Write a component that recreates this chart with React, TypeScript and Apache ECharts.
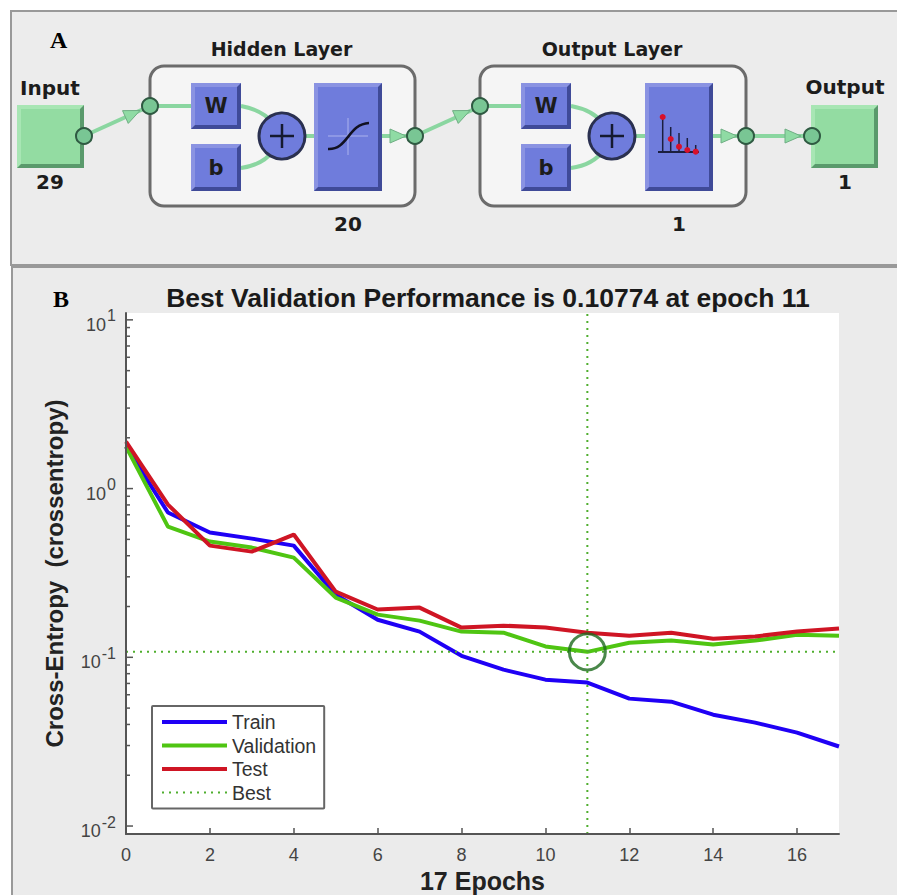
import React, { useEffect, useRef } from "react";
import * as echarts from "echarts";

const epochs = [0, 1, 2, 3, 4, 5, 6, 7, 8, 9, 10, 11, 12, 13, 14, 15, 16, 17];
const trainValues = [1.774, 0.721, 0.549, 0.505, 0.459, 0.235, 0.167, 0.142, 0.102, 0.0845, 0.0737, 0.0708, 0.0569, 0.0546, 0.0457, 0.041, 0.0358, 0.0296];
const validationValues = [1.774, 0.595, 0.485, 0.447, 0.39, 0.226, 0.179, 0.165, 0.142, 0.14, 0.116, 0.10774, 0.122, 0.1256, 0.119, 0.1256, 0.136, 0.134];
const testValues = [1.9, 0.804, 0.459, 0.423, 0.534, 0.245, 0.192, 0.197, 0.15, 0.154, 0.15, 0.14, 0.134, 0.14, 0.129, 0.133, 0.142, 0.148];
const bestEpoch = 11;
const bestValue = 0.10774;
const yMin = 0.00897;
const yMax = 10.98;
const decades = [0.01, 0.1, 1, 10];
const minorValues = [0.02, 0.03, 0.04, 0.05, 0.06, 0.07, 0.08, 0.09, 0.2, 0.3, 0.4, 0.5, 0.6, 0.7, 0.8, 0.9, 2, 3, 4, 5, 6, 7, 8, 9];
const legendNames = ["Train", "Validation", "Test", "Best"];
const xTicks = [0, 2, 4, 6, 8, 10, 12, 14, 16];

const FONT = "'Liberation Sans', Arial, sans-serif";
const DIAGRAM_FONT = "'DejaVu Sans', sans-serif";
const SERIF = "'Liberation Serif', serif";
const WIRE = "#8ad6a0";
const GREEN_DOTTED = "#4fae2e";

function bevelBox(x: number, y: number, w: number, h: number, dark: string, light: string, fill: string): any[] {
  return [
    { type: "rect", z: 3, shape: { x, y, width: w, height: h }, style: { fill: dark } },
    { type: "polygon", z: 3, shape: { points: [[x, y], [x + w, y], [x + w - 4, y + 4], [x + 4, y + 4], [x + 4, y + h - 4], [x, y + h]] }, style: { fill: light } },
    { type: "rect", z: 3, shape: { x: x + 4, y: y + 4, width: w - 8, height: h - 8 }, style: { fill } },
  ];
}
const purple = (x: number, y: number, w: number, h: number) => bevelBox(x, y, w, h, "#3f4a98", "#8a93e2", "#6f7cdc");
const greenBox = (x: number, y: number, w: number, h: number) => bevelBox(x, y, w, h, "#5a9a6c", "#a8e6b4", "#93dca2");

function node(cx: number, cy: number): any {
  return { type: "circle", z: 5, shape: { cx, cy, r: 8 }, style: { fill: "#79c694", stroke: "#2f5a42", lineWidth: 2 } };
}
function wire(x1: number, y1: number, x2: number, y2: number): any {
  return { type: "line", z: 2, shape: { x1, y1, x2, y2 }, style: { stroke: WIRE, lineWidth: 4 } };
}
function curve(x1: number, y1: number, cx: number, cy: number, x2: number, y2: number): any {
  return { type: "bezierCurve", z: 2, shape: { x1, y1, x2, y2, cpx1: cx, cpy1: cy }, style: { stroke: WIRE, lineWidth: 4, fill: "none" } };
}
function arrow(tipX: number, tipY: number, angle: number): any {
  const len = 16, half = 7;
  const c = Math.cos(angle), s = Math.sin(angle);
  return {
    type: "polygon", z: 4,
    shape: { points: [[tipX, tipY], [tipX - len * c - half * s, tipY - len * s + half * c], [tipX - len * c + half * s, tipY - len * s - half * c]] },
    style: { fill: "#8fdba4", stroke: "#6fae84", lineWidth: 1 },
  };
}
function label(text: string, x: number, y: number, size = 19): any {
  return {
    type: "text", z: 6, x, y,
    style: { text, x: 0, y: 0, align: "center", verticalAlign: "middle", font: `bold ${size}px ${DIAGRAM_FONT}`, fill: "#1c1c1c" },
  };
}
function plus(cx: number, cy: number): any[] {
  return [
    { type: "circle", z: 5, shape: { cx, cy, r: 23 }, style: { fill: "#6f7cdc", stroke: "#2a3050", lineWidth: 3 } },
    { type: "line", z: 6, shape: { x1: cx - 12, y1: cy, x2: cx + 12, y2: cy }, style: { stroke: "#151a30", lineWidth: 2.5 } },
    { type: "line", z: 6, shape: { x1: cx, y1: cy - 12, x2: cx, y2: cy + 12 }, style: { stroke: "#151a30", lineWidth: 2.5 } },
  ];
}
function layer(x: number, width: number, title: string, size: string, sizeX: number): any[] {
  const plusX = x + 132;
  const boxW = x + 41;
  return [
    { type: "rect", z: 1, shape: { x, y: 66, width, height: 140, r: 14 }, style: { fill: "#f5f5f5", stroke: "#6b6b6b", lineWidth: 3 } },
    label(title, x + width / 2 - 1, 49),
    label(size, sizeX, 224, 20),
    wire(x, 106, boxW, 106),
    curve(boxW + 50, 106, boxW + 72, 110, plusX - 8, 124),
    curve(boxW + 50, 168, boxW + 72, 165, plusX - 8, 150),
    wire(plusX + 20, 136, x + 170, 136),
    ...purple(boxW, 83, 50, 46),
    ...purple(boxW, 144, 50, 47),
    label("W", boxW + 25, 106, 21),
    label("b", boxW + 25, 168, 21),
    ...plus(plusX, 136),
  ];
}

function diagram(): any[] {
  const sigmoidX = 348;
  const stems = [[662.7, 117], [670.7, 127], [679, 133], [687.3, 138], [695.7, 145]];
  const dots = [[662.7, 117], [670.7, 139], [679, 146.7], [687.3, 150], [695.7, 151.7]];
  return [
    { type: "rect", z: 0, shape: { x: 11, y: 11, width: 890, height: 254 }, style: { fill: "#ececec", stroke: "#999999", lineWidth: 2 } },
    { type: "rect", z: 0, shape: { x: 12, y: 267, width: 890, height: 632 }, style: { fill: "#ebebeb", stroke: "#999999", lineWidth: 2 } },
    { type: "rect", z: 0, shape: { x: 126, y: 313, width: 713, height: 521 }, style: { fill: "#ffffff" } },
    ...layer(150, 265, "Hidden Layer", "20", 348),
    ...layer(480, 266, "Output Layer", "1", 679),
    ...greenBox(17, 105, 67, 63),
    ...greenBox(811, 105, 67, 63),
    wire(84, 136, 150, 106),
    wire(415, 136, 481, 106),
    wire(746, 136, 811, 136),
    wire(382, 136, 415, 136),
    wire(713, 136, 746, 136),
    arrow(140, 110.5, -0.42),
    arrow(470, 110.5, -0.42),
    arrow(406, 136, 0),
    arrow(737, 136, 0),
    arrow(801, 136, 0),
    node(84, 136), node(150, 106), node(415, 136), node(480, 106), node(746, 136), node(812, 136),
    label("Input", 50, 88, 20),
    label("29", 50, 182, 20),
    label("Output", 845, 87, 20),
    label("1", 845, 182, 20),
    ...purple(314, 83, 68, 108),
    ...purple(645, 83, 68, 108),
    { type: "line", z: 6, shape: { x1: 328, y1: 136, x2: 368, y2: 136 }, style: { stroke: "#97a0e8", lineWidth: 1.5 } },
    { type: "line", z: 6, shape: { x1: sigmoidX, y1: 118, x2: sigmoidX, y2: 155 }, style: { stroke: "#97a0e8", lineWidth: 1.5 } },
    { type: "bezierCurve", z: 7, shape: { x1: 328, y1: 149, cpx1: 348, cpy1: 150, cpx2: 348, cpy2: 124, x2: 369, y2: 123 }, style: { stroke: "#111122", lineWidth: 2.5, fill: "none" } },
    { type: "line", z: 6, shape: { x1: 658, y1: 152, x2: 699, y2: 152 }, style: { stroke: "#1b1f3f", lineWidth: 2 } },
    ...stems.map(([x, top]) => ({ type: "line", z: 6, shape: { x1: x, y1: top, x2: x, y2: 152 }, style: { stroke: "#1b1f3f", lineWidth: 1.5 } })),
    ...dots.map(([cx, cy]) => ({ type: "circle", z: 7, shape: { cx, cy, r: 3 }, style: { fill: "#d8102a" } })),
    { type: "text", z: 8, x: 50, y: 28, style: { text: "A", x: 0, y: 0, font: `bold 24px ${SERIF}`, fill: "#000" } },
    { type: "text", z: 8, x: 53, y: 287, style: { text: "B", x: 0, y: 0, font: `bold 24px ${SERIF}`, fill: "#000" } },
  ];
}

function tickSeries(values: number[], length: number): any {
  return {
    type: "custom",
    name: "ticks",
    z: 3,
    silent: true,
    clip: false,
    data: values.map((v) => [0, v]),
    encode: { x: 0, y: 1 },
    renderItem: (_p: any, api: any) => {
      const pt = api.coord([0, api.value(1)]);
      return { type: "line", shape: { x1: pt[0], y1: pt[1], x2: pt[0] + length, y2: pt[1] }, style: { stroke: "#555555", lineWidth: 1.5 } };
    },
  };
}

export default function App() {
  const ref = useRef<HTMLDivElement>(null);
  useEffect(() => {
    document.body.style.margin = "0";
    const chart = echarts.init(ref.current!, undefined, { renderer: "svg" });
    const zip = (vals: number[]) => epochs.map((e, i) => [e, vals[i]]);
    chart.setOption({
      animation: false,
      backgroundColor: "#ffffff",
      textStyle: { fontFamily: FONT },
      title: {
        text: "Best Validation Performance is 0.10774 at epoch 11",
        left: 483, top: 279, textAlign: "center",
        textStyle: { fontFamily: FONT, fontWeight: "bold", fontSize: 26.5, color: "#1a1a1a" },
      },
      grid: { left: 126, top: 313, width: 713, height: 521, show: false, outerBoundsMode: "none" },
      legend: {
        data: legendNames,
        orient: "vertical", left: 152, top: 706,
        backgroundColor: "#ffffff",
        borderColor: "#666666", borderWidth: 2, borderRadius: 1,
        padding: [6, 8, 6, 8],
        itemWidth: 65, itemHeight: 14, itemGap: 3.5,
        itemStyle: { opacity: 0 },
        lineStyle: { width: "inherit" },
        selectedMode: false,
        textStyle: { fontFamily: FONT, fontSize: 19.5, color: "#333333" },
        z: 20,
      },
      xAxis: {
        type: "value", min: 0, max: 17, interval: 2, z: 6,
        name: "17 Epochs", nameLocation: "middle", nameGap: 34,
        nameTextStyle: { fontFamily: FONT, fontWeight: "bold", fontSize: 25, color: "#222222" },
        axisLine: { lineStyle: { color: "#555555", width: 2 } },
        axisTick: { inside: true, length: 6, lineStyle: { color: "#555555", width: 1.5 }, customValues: xTicks },
        axisLabel: { fontFamily: FONT, fontSize: 18, color: "#444444", margin: 12, customValues: xTicks },
        splitLine: { show: false },
      },
      yAxis: {
        type: "log", logBase: 10, min: yMin, max: yMax, z: 6,
        name: "Cross-Entropy  (crossentropy)", nameLocation: "middle", nameGap: 60,
        nameTextStyle: { fontFamily: FONT, fontWeight: "bold", fontSize: 24, color: "#222222" },
        axisLine: { show: true, lineStyle: { color: "#555555", width: 2 } },
        axisTick: { show: false },
        axisLabel: {
          margin: 10,
          customValues: decades,
          formatter: (v: number) => `{b|10}{s|${Math.round(Math.log10(v))}}`,
          rich: {
            b: { fontFamily: FONT, fontSize: 18, color: "#444444", padding: [10, 0, 0, 0] },
            s: { fontFamily: FONT, fontSize: 16, color: "#444444", padding: [0, 0, 8, 1] },
          },
        },
        splitLine: { show: false },
      },
      graphic: { elements: diagram() },
      series: [
        { name: "Train", type: "line", z: 4, data: zip(trainValues), symbol: "none", lineStyle: { color: "#1f00f5", width: 4 }, itemStyle: { color: "#1f00f5" } },
        { name: "Validation", type: "line", z: 4, data: zip(validationValues), symbol: "none", lineStyle: { color: "#4fc512", width: 4 }, itemStyle: { color: "#4fc512" } },
        { name: "Test", type: "line", z: 5, data: zip(testValues), symbol: "none", lineStyle: { color: "#cf1524", width: 4 }, itemStyle: { color: "#cf1524" } },
        { name: "Best", type: "line", z: 4, data: [[0, bestValue], [17, bestValue]], symbol: "none", lineStyle: { color: GREEN_DOTTED, width: 2, type: [2, 5] }, itemStyle: { color: GREEN_DOTTED } },
        { name: "Best", type: "line", z: 4, data: [[bestEpoch, yMin], [bestEpoch, yMax]], symbol: "none", lineStyle: { color: GREEN_DOTTED, width: 2, type: [2, 5] }, itemStyle: { color: GREEN_DOTTED } },
        { name: "Best point", type: "scatter", z: 6, data: [[bestEpoch, bestValue]], symbol: "circle", symbolSize: 36, itemStyle: { color: "transparent", borderColor: "#1d6a1d", borderWidth: 3 } },
        tickSeries(decades, 7),
        tickSeries(minorValues, 4),
      ],
    });
    return () => chart.dispose();
  }, []);
  return <div ref={ref} style={{ position: "fixed", left: 0, top: 0, width: 897, height: 895 }} />;
}
